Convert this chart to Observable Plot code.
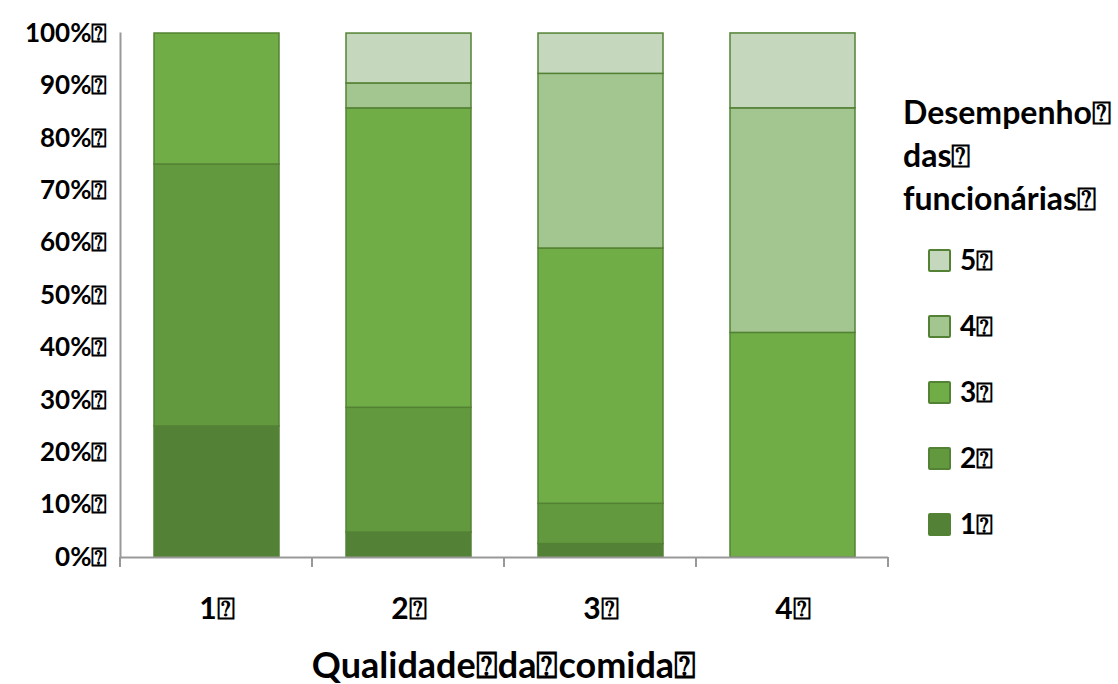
<!DOCTYPE html>
<html>
<head>
<meta charset="utf-8">
<script src="https://cdn.jsdelivr.net/npm/d3@7"></script>
<script src="https://cdn.jsdelivr.net/npm/@observablehq/plot@0.6"></script>
<style>
  html, body { margin: 0; padding: 0; background: #fff; }
  #wrap { position: relative; width: 1118px; height: 684px; font-family: Lato, "DejaVu Sans", sans-serif; font-weight: 700; color: #000; }
  #wrap svg { position: absolute; left: 0; top: 0; }
  .ov { position: absolute; white-space: nowrap; line-height: 1; }
  #legend-title { left: 903px; top: 90px; font-size: 32px; line-height: 43px; }
  .item { position: absolute; left: 928px; display: flex; align-items: center; font-size: 28px; }
  .sw { width: 19px; height: 19px; border: 2px solid #548235; border-radius: 2px; margin-right: 9px; box-sizing: content-box; }
  #xtitle { left: 0; width: 1008px; text-align: center; top: 646px; font-size: 36px; }
</style>
</head>
<body>
<div id="wrap"></div>
<script>
const categories = ["1", "2", "3", "4"];
const series = ["1", "2", "3", "4", "5"];
const s1 = [25, 4.76, 2.56, 0];
const s2 = [50, 23.81, 7.69, 0];
const s3 = [25, 57.14, 48.72, 42.86];
const s4 = [0, 4.76, 33.33, 42.86];
const s5 = [0, 9.52, 7.69, 14.29];
const yTicks = [0, 10, 20, 30, 40, 50, 60, 70, 80, 90, 100];
const colors = ["#538135", "#62993e", "#70ad47", "#a3c590", "#c5d8bd"];
const legendTitle = ["Desempenho⍰", "das⍰", "funcionárias⍰"];
const xTitle = "Qualidade⍰da⍰comida⍰";

const seriesValues = [s1, s2, s3, s4, s5];
const rows = [];
series.forEach((s, i) => categories.forEach((c, j) => {
  if (seriesValues[i][j] > 0) rows.push({cat: c, series: s, value: seriesValues[i][j]});
}));

const chart = Plot.plot({
  width: 1118, height: 684,
  marginLeft: 120, marginRight: 230, marginTop: 33, marginBottom: 127,
  style: {fontFamily: 'Lato, "DejaVu Sans", sans-serif', fontWeight: 700, color: "#000", background: "transparent", overflow: "visible"},
  x: {domain: categories, paddingInner: 0.35, paddingOuter: 0.175, label: null},
  y: {domain: [0, 100], label: null},
  color: {domain: series, range: colors},
  marks: [
    Plot.barY(rows, {x: "cat", y: "value", fill: "series", stroke: "#548235", strokeWidth: 1.5}),
    Plot.axisY({ticks: yTicks, tickFormat: d => `${d}%⍰`, tickSize: 0, tickPadding: 13, fontSize: 26, label: null}),
    Plot.axisX({tickSize: 0, tickPadding: 40, fontSize: 30, tickFormat: d => `${d}⍰`, label: null}),
    Plot.ruleY([0], {stroke: "#999", strokeWidth: 2}),
    Plot.frame({anchor: "left", stroke: "#999", strokeWidth: 2})
  ]
});

const wrap = document.getElementById("wrap");
wrap.appendChild(chart);

// boundary tick marks of the category axis
const xs = chart.scale("x");
const ys = chart.scale("y");
const [r0, r1] = xs.range;
const y0 = ys.range[0];
const n = xs.domain.length;
const svg = d3.select(chart);
svg.append("g").selectAll("line").data(d3.range(n + 1)).join("line")
  .attr("x1", i => r0 + i * (r1 - r0) / n).attr("x2", i => r0 + i * (r1 - r0) / n)
  .attr("y1", y0).attr("y2", y0 + 10)
  .attr("stroke", "#999").attr("stroke-width", 2);

// legend
const lt = document.createElement("div");
lt.className = "ov"; lt.id = "legend-title";
lt.innerHTML = legendTitle.join("<br>");
wrap.appendChild(lt);
const legendTops = [242, 308, 374, 440, 506];
series.slice().reverse().forEach((s, k) => {
  const it = document.createElement("div");
  it.className = "item";
  it.style.top = legendTops[k] + "px";
  const sw = document.createElement("div");
  sw.className = "sw";
  sw.style.background = colors[series.indexOf(s)];
  it.appendChild(sw);
  const lab = document.createElement("span");
  lab.textContent = s + "⍰";
  it.appendChild(lab);
  wrap.appendChild(it);
});

const xt = document.createElement("div");
xt.className = "ov"; xt.id = "xtitle";
xt.textContent = xTitle;
wrap.appendChild(xt);
</script>
</body>
</html>
